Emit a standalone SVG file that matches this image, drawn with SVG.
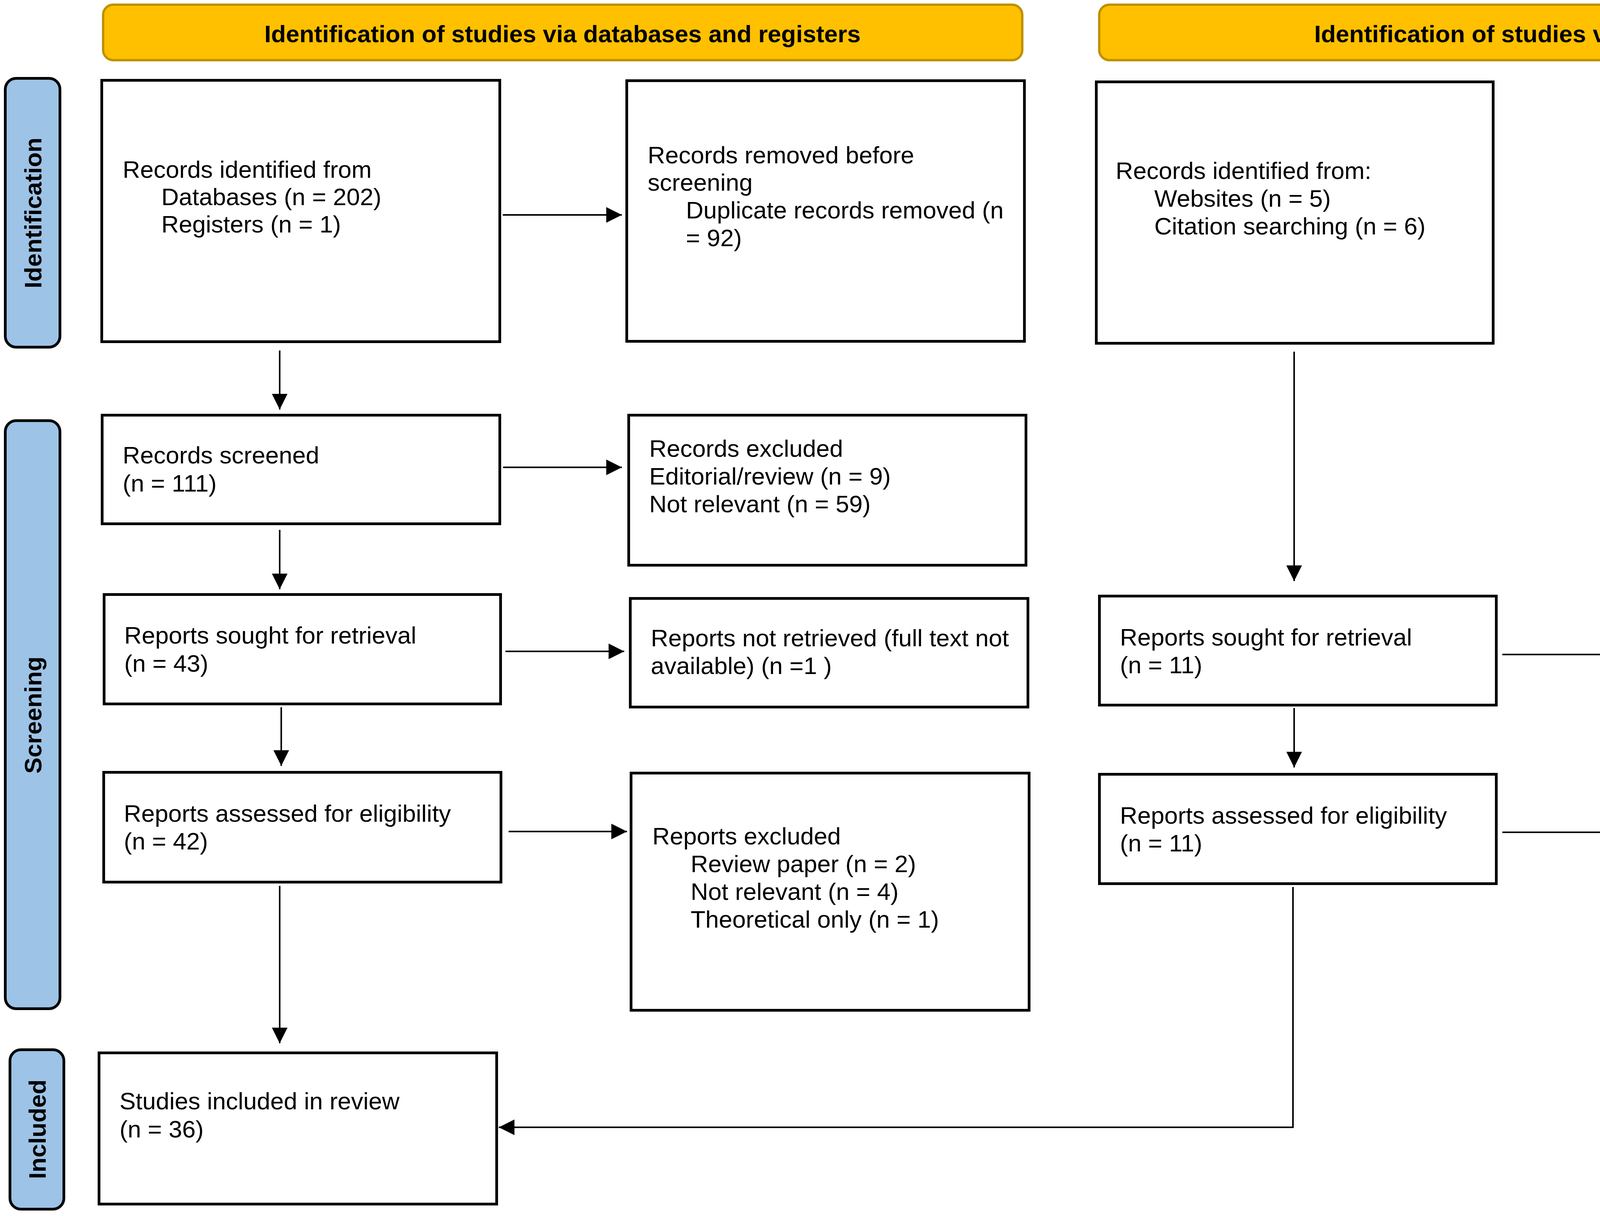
<svg xmlns="http://www.w3.org/2000/svg" width="5196" height="3112" viewBox="0 0 5196 3112">
<style>
.hdr{fill:#FFC000;stroke:#BF9000;stroke-width:6}
.side{fill:#9DC3E6;stroke:#000;stroke-width:7}
.box{fill:#fff;stroke:#000;stroke-width:7}
.ht{font-family:"Liberation Sans",Arial,sans-serif;font-weight:bold;font-size:62px;fill:#000;text-anchor:middle}
.t{font-family:"Liberation Sans",Arial,sans-serif;font-size:62px;fill:#000}
.c{fill:none;stroke:#000;stroke-width:4}
</style>
<defs>
<marker id="ah" markerUnits="userSpaceOnUse" markerWidth="40" markerHeight="40" refX="40" refY="20" orient="auto">
<path d="M0,0 L40,20 L0,40 z" fill="#000"/>
</marker>
</defs>
<rect width="5196" height="3112" fill="#fff"/>
<g id="header-databases">
<rect class="hdr" x="264" y="12" width="2353" height="142" rx="26"/>
<text class="ht" x="1440" y="108">Identification of studies via databases and registers</text>
</g>
<g id="header-other">
<rect class="hdr" x="2814" y="12" width="2348" height="142" rx="26"/>
<text class="ht" x="3988" y="108">Identification of studies via other methods</text>
</g>
<g id="phase-identification">
<rect class="side" x="13.5" y="200.5" width="140" height="688" rx="28"/>
<text class="ht" transform="translate(106,545) rotate(-90)">Identification</text>
</g>
<g id="phase-screening">
<rect class="side" x="13.5" y="1076.5" width="140" height="1505" rx="28"/>
<text class="ht" transform="translate(106,1830) rotate(-90)">Screening</text>
</g>
<g id="phase-included">
<rect class="side" x="25.5" y="2686.5" width="138" height="408" rx="28"/>
<text class="ht" transform="translate(117,2890) rotate(-90)">Included</text>
</g>
<g id="records-identified-db">
<rect class="box" x="260.5" y="205.5" width="1019" height="669"/>
<text class="t" x="314" y="455">Records identified from</text>
<text class="t" x="413" y="525">Databases (n = 202)</text>
<text class="t" x="413" y="595">Registers (n = 1)</text>
</g>
<g id="records-removed">
<rect class="box" x="1604.5" y="206.5" width="1018" height="667"/>
<text class="t" x="1658" y="418">Records removed before</text>
<text class="t" x="1658" y="488">screening</text>
<text class="t" x="1756" y="559">Duplicate records removed (n</text>
<text class="t" x="1756" y="630">= 92)</text>
</g>
<g id="records-identified-other">
<rect class="box" x="2806.5" y="209.5" width="1016" height="669"/>
<text class="t" x="2856" y="458">Records identified from:</text>
<text class="t" x="2955" y="529">Websites (n = 5)</text>
<text class="t" x="2955" y="600">Citation searching (n = 6)</text>
</g>
<g id="records-screened">
<rect class="box" x="261.5" y="1062.5" width="1018" height="278"/>
<text class="t" x="314" y="1186">Records screened</text>
<text class="t" x="314" y="1258">(n = 111)</text>
</g>
<g id="records-excluded">
<rect class="box" x="1609.5" y="1062.5" width="1017" height="384"/>
<text class="t" x="1662" y="1169">Records excluded</text>
<text class="t" x="1662" y="1240">Editorial/review (n = 9)</text>
<text class="t" x="1662" y="1311">Not relevant (n = 59)</text>
</g>
<g id="reports-sought-db">
<rect class="box" x="266.5" y="1521.5" width="1015" height="280"/>
<text class="t" x="318" y="1647">Reports sought for retrieval</text>
<text class="t" x="318" y="1719">(n = 43)</text>
</g>
<g id="reports-not-retrieved-db">
<rect class="box" x="1613.5" y="1531.5" width="1018" height="278"/>
<text class="t" x="1666" y="1654">Reports not retrieved (full text not</text>
<text class="t" x="1666" y="1725">available) (n =1 )</text>
</g>
<g id="reports-assessed-db">
<rect class="box" x="265.5" y="1976.5" width="1017" height="281"/>
<text class="t" x="317" y="2103">Reports assessed for eligibility</text>
<text class="t" x="317" y="2174">(n = 42)</text>
</g>
<g id="reports-excluded-db">
<rect class="box" x="1615.5" y="1978.5" width="1019" height="607"/>
<text class="t" x="1670" y="2161">Reports excluded</text>
<text class="t" x="1768" y="2232">Review paper (n = 2)</text>
<text class="t" x="1768" y="2303">Not relevant (n = 4)</text>
<text class="t" x="1768" y="2374">Theoretical only (n = 1)</text>
</g>
<g id="studies-included">
<rect class="box" x="253.5" y="2694.5" width="1018" height="387"/>
<text class="t" x="306" y="2839">Studies included in review</text>
<text class="t" x="306" y="2911">(n = 36)</text>
</g>
<g id="reports-sought-other">
<rect class="box" x="2814.5" y="1525.5" width="1016" height="279"/>
<text class="t" x="2867" y="1652">Reports sought for retrieval</text>
<text class="t" x="2867" y="1723">(n = 11)</text>
</g>
<g id="reports-not-retrieved-other">
<rect class="box" x="4163.5" y="1530.5" width="1014" height="278"/>
<text class="t" x="4216" y="1655">Reports not retrieved</text>
<text class="t" x="4216" y="1726">(n = 0)</text>
</g>
<g id="reports-assessed-other">
<rect class="box" x="2814.5" y="1981.5" width="1016" height="280"/>
<text class="t" x="2867" y="2108">Reports assessed for eligibility</text>
<text class="t" x="2867" y="2179">(n = 11)</text>
</g>
<g id="reports-excluded-other">
<rect class="box" x="4163.5" y="1985.5" width="1014" height="593"/>
<text class="t" x="4216" y="2233">Reports excluded</text>
<text class="t" x="4315" y="2304">Not relevant (n = 8)</text>
<text class="t" x="4315" y="2374">Review paper (n=2)</text>
</g>
<g id="connectors">
<path class="c" d="M1287,550 H1592" marker-end="url(#ah)"/>
<path class="c" d="M716,897 V1048" marker-end="url(#ah)"/>
<path class="c" d="M1288,1196 H1592" marker-end="url(#ah)"/>
<path class="c" d="M716,1356 V1508" marker-end="url(#ah)"/>
<path class="c" d="M1294,1667 H1598" marker-end="url(#ah)"/>
<path class="c" d="M720,1810 V1960" marker-end="url(#ah)"/>
<path class="c" d="M1302,2128 H1605" marker-end="url(#ah)"/>
<path class="c" d="M716,2267 V2670" marker-end="url(#ah)"/>
<path class="c" d="M3313,900 V1487" marker-end="url(#ah)"/>
<path class="c" d="M3846,1675 H4152" marker-end="url(#ah)"/>
<path class="c" d="M3313,1812 V1964" marker-end="url(#ah)"/>
<path class="c" d="M3846,2130 H4152" marker-end="url(#ah)"/>
<path class="c" d="M3310,2270 V2885 H1277" marker-end="url(#ah)"/>
</g>
</svg>
